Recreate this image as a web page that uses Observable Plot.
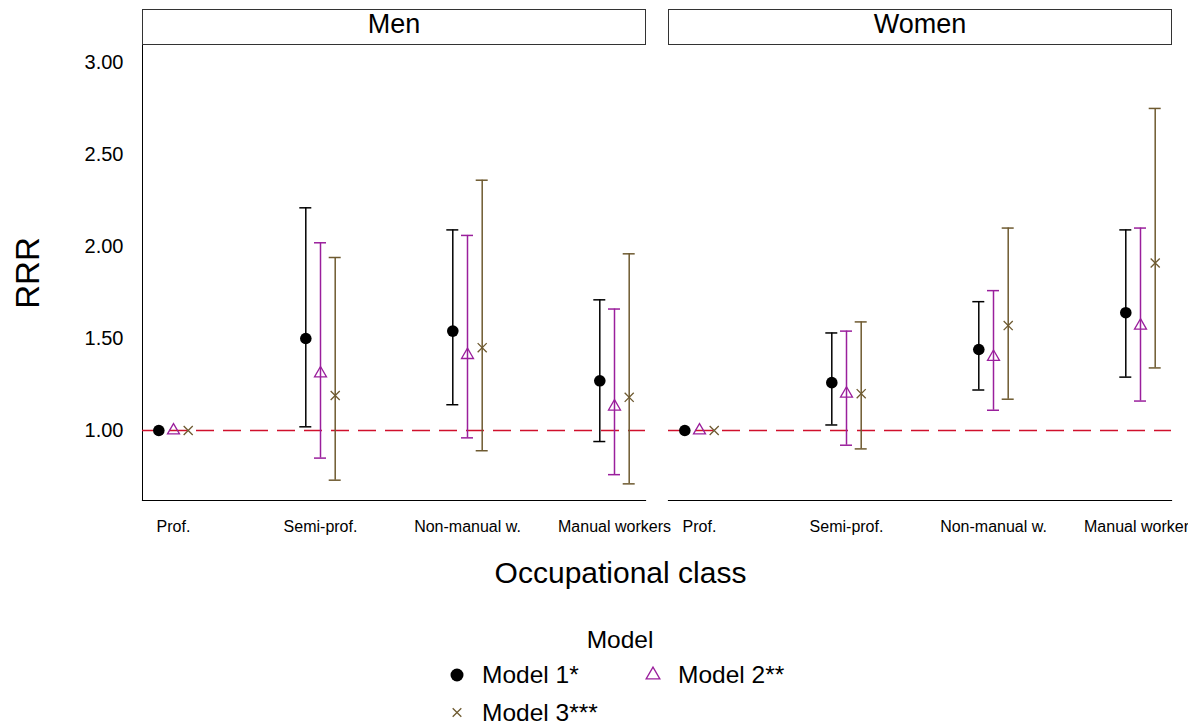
<!DOCTYPE html>
<html>
<head>
<meta charset="utf-8">
<script src="https://cdn.jsdelivr.net/npm/d3@7"></script>
<script src="https://cdn.jsdelivr.net/npm/@observablehq/plot@0.6"></script>
<style>
  html, body { margin: 0; padding: 0; background: #fff; }
  body { width: 1188px; height: 727px; overflow: hidden; font-family: "Liberation Sans", Arial, sans-serif; }
  #chart svg { display: block; }
</style>
</head>
<body>
<div id="chart"></div>
<div id="legend"></div>
<script>
// ---- data ----
const sexes = ["Men", "Women"];
const classes = ["Prof.", "Semi-prof.", "Non-manual w.", "Manual workers"];
const models = ["Model 1*", "Model 2**", "Model 3***"];
const modelColors = ["#000000", "#9A1F9C", "#6E5A30"];
const modelSymbols = ["circle", "triangle", "times"];
const yTicks = [1.0, 1.5, 2.0, 2.5, 3.0];
const refValue = 1;

// rows: models, columns: occupational classes
const menEst = [[1.00, 1.50, 1.54, 1.27], [1.00, 1.31, 1.41, 1.13], [1.00, 1.19, 1.45, 1.18]];
const menLo  = [[null, 1.02, 1.14, 0.94], [null, 0.85, 0.96, 0.76], [null, 0.73, 0.89, 0.71]];
const menHi  = [[null, 2.21, 2.09, 1.71], [null, 2.02, 2.06, 1.66], [null, 1.94, 2.36, 1.96]];
const womenEst = [[1.00, 1.26, 1.44, 1.64], [1.00, 1.20, 1.40, 1.57], [1.00, 1.20, 1.57, 1.91]];
const womenLo  = [[null, 1.03, 1.22, 1.29], [null, 0.92, 1.11, 1.16], [null, 0.90, 1.17, 1.34]];
const womenHi  = [[null, 1.53, 1.70, 2.09], [null, 1.54, 1.76, 2.10], [null, 1.59, 2.10, 2.75]];

// ---- table ----
const rows = [];
sexes.forEach((sex, s) => {
  const E = s ? womenEst : menEst, L = s ? womenLo : menLo, H = s ? womenHi : menHi;
  models.forEach((model, i) => classes.forEach((cls, j) => {
    rows.push({sex, cls, model, mi: i, est: E[i][j], lo: L[i][j], hi: H[i][j]});
  }));
});

const font = "Liberation Sans, Arial, sans-serif";
const W = 1188, Hsvg = 600, mT = 45, mB = 100, mL = 142, mR = 17;
const panelH = Hsvg - mT - mB;
const offs = [-14.7, 0, 14.7];
const symR = [5.8, 4.45, 4.2];

const marks = [
  // strip boxes
  Plot.frame({insetTop: -36, insetBottom: panelH + 1, stroke: "#333", strokeWidth: 1, fill: "white"}),
  Plot.text(sexes, {fx: d => d, text: d => d, frameAnchor: "top", dy: -21, fontSize: 27, lineAnchor: "middle", fill: "black"}),
  // axis lines
  Plot.frame({anchor: "bottom", stroke: "black", strokeWidth: 1.2}),
  Plot.frame({anchor: "left", facetAnchor: "left", stroke: "black", strokeWidth: 1}),
  // reference line
  Plot.ruleY([refValue], {stroke: "#D0102C", strokeDasharray: "18,9", strokeWidth: 1.3}),
  Plot.axisY({ticks: yTicks, tickFormat: d3.format(".2f"), tickSize: 0, tickPadding: 19, fontSize: 20, label: null, fill: "black"}),
  Plot.axisX({tickSize: 0, tickPadding: 20, fontSize: 16, label: null, fill: "black"}),
  Plot.text(["RRR"], {fx: () => "Men", text: d => d, frameAnchor: "left", dx: -114, rotate: -90, fontSize: 33, textAnchor: "middle", lineAnchor: "middle", fill: "black"}),
  Plot.text(["Occupational class"], {fx: () => "Men", text: d => d, frameAnchor: "bottom-right", dx: -25, dy: 73, fontSize: 30, textAnchor: "middle", lineAnchor: "middle", fill: "black"})
];

models.forEach((m, i) => {
  const d = rows.filter(r => r.mi === i);
  const e = d.filter(r => r.lo != null);
  const col = modelColors[i];
  marks.push(
    Plot.ruleX(e, {fx: "sex", x: "cls", y1: "lo", y2: "hi", stroke: col, strokeWidth: 1.5, dx: offs[i]}),
    Plot.ruleY(e, {fx: "sex", x1: "cls", x2: "cls", y: "lo", stroke: col, strokeWidth: 1.5, dx: offs[i], insetLeft: -6, insetRight: -6}),
    Plot.ruleY(e, {fx: "sex", x1: "cls", x2: "cls", y: "hi", stroke: col, strokeWidth: 1.5, dx: offs[i], insetLeft: -6, insetRight: -6}),
    Plot.dot(d, i === 0
      ? {fx: "sex", x: "cls", y: "est", symbol: modelSymbols[i], r: symR[i], fill: col, stroke: "none", dx: offs[i]}
      : {fx: "sex", x: "cls", y: "est", symbol: modelSymbols[i], r: symR[i], fill: "none", stroke: col, strokeWidth: 1.3, dx: offs[i]})
  );
});

const chart = Plot.plot({
  width: W, height: Hsvg,
  marginTop: mT, marginBottom: mB, marginLeft: mL, marginRight: mR,
  style: {fontFamily: font, background: "white", color: "black"},
  fx: {domain: sexes, paddingInner: 0.04373, paddingOuter: 0, round: false, axis: null, label: null},
  x: {type: "point", domain: classes, padding: 0.2109, round: false, label: null},
  y: {domain: [0.6196, 3.092], label: null},
  marks
});
document.getElementById("chart").appendChild(chart);

// ---- legend ----
const leg = d3.select("#legend").append("svg")
  .attr("width", W).attr("height", 727 - Hsvg)
  .style("display", "block")
  .style("font-family", font);
leg.append("text").attr("x", 620).attr("y", 48).attr("text-anchor", "middle")
  .attr("font-size", 24.5).text("Model");
const legPos = [[457, 75], [653, 75], [457, 112.5]];
const legSym = {circle: d3.symbolCircle, triangle: d3.symbolTriangle, times: d3.symbolTimes};
const legSize = [Math.PI * 6.5 * 6.5, Math.PI * 5.1 * 5.1, Math.PI * 4.0 * 4.0];
models.forEach((m, i) => {
  const [cx, cy] = legPos[i];
  const p = leg.append("path")
    .attr("transform", `translate(${cx},${cy})`)
    .attr("d", d3.symbol(legSym[modelSymbols[i]], legSize[i])());
  if (i === 0) p.attr("fill", modelColors[i]);
  else p.attr("fill", "none").attr("stroke", modelColors[i]).attr("stroke-width", 1.3);
  leg.append("text").attr("x", cx + 25).attr("y", cy + 8).attr("font-size", 24.5).text(m);
});
</script>
</body>
</html>
